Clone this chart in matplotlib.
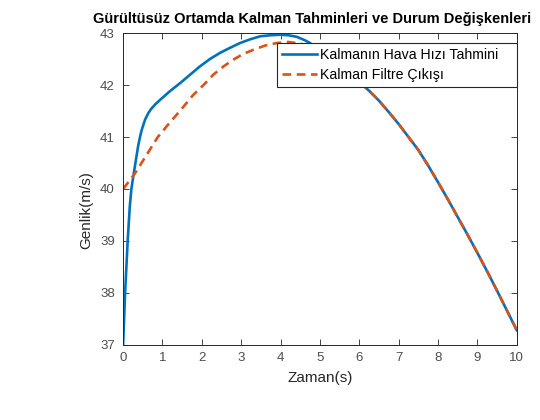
import matplotlib
matplotlib.use("Agg")
import matplotlib.pyplot as plt

plt.rcParams['font.family'] = ['Liberation Sans', 'DejaVu Sans']

t_blue = [0, 0.05, 0.116, 0.17, 0.21, 0.27, 0.34, 0.38, 0.42, 0.46, 0.49, 0.56, 0.64, 0.71,
          0.83, 0.96, 1.2, 1.45, 1.7, 1.95, 2.2, 2.46, 2.72, 2.97, 3.22, 3.48, 3.74, 4.0,
          4.2, 4.41, 4.6, 4.75, 5.0, 5.25, 5.5, 5.75, 6.0, 6.25, 6.5, 6.75, 7.0, 7.25,
          7.5, 7.75, 8.0, 8.25, 8.5, 8.75, 9.0, 9.25, 9.5, 9.75, 10.0]
kalman_speed = [37.0, 38.0, 39.0, 39.67, 40.0, 40.3, 40.63, 40.82, 40.97, 41.1, 41.18, 41.34,
                41.46, 41.54, 41.64, 41.73, 41.89, 42.04, 42.2, 42.36, 42.5, 42.62, 42.72,
                42.81, 42.88, 42.94, 42.96, 42.97, 42.96, 42.93, 42.87, 42.81, 42.67, 42.52,
                42.37, 42.22, 42.06, 41.89, 41.7, 41.48, 41.25, 41.0, 40.75, 40.45, 40.13,
                39.8, 39.46, 39.12, 38.77, 38.41, 38.04, 37.66, 37.28]

t_orange = [0, 0.3, 0.6, 0.88, 1.12, 1.45, 1.78, 2.04, 2.29, 2.55, 2.8, 3.05, 3.31, 3.6,
            3.9, 4.2, 4.5, 4.75, 5.0, 5.25, 5.5, 5.75, 6.0, 6.25, 6.5, 6.75, 7.0, 7.25,
            7.5, 7.75, 8.0, 8.25, 8.5, 8.75, 9.0, 9.25, 9.5, 9.75, 10.0]
filter_out = [40.0, 40.3, 40.66, 41.0, 41.22, 41.51, 41.81, 42.0, 42.2, 42.36, 42.49, 42.6,
              42.68, 42.76, 42.81, 42.83, 42.8, 42.74, 42.64, 42.51, 42.37, 42.22, 42.06,
              41.89, 41.7, 41.48, 41.25, 41.0, 40.75, 40.45, 40.13, 39.8, 39.46, 39.12,
              38.77, 38.41, 38.04, 37.66, 37.28]

x_ticks = list(range(0, 11))
y_ticks = [37, 38, 39, 40, 41, 42, 43]

fig = plt.figure(figsize=(5.4, 4.2), dpi=100)
ax = fig.add_axes([0.228, 0.179, 0.729, 0.742])

ax.plot(t_blue, kalman_speed, color='#0072BD', lw=1.9, solid_joinstyle='round',
        label='Kalmanın Hava Hızı Tahmini')
ax.plot(t_orange, filter_out, color='#D95319', lw=1.9, ls=(0, (3.3, 2.1)),
        label='Kalman Filtre Çıkışı')

ax.set_xlim(0, 10)
ax.set_ylim(37, 43)
ax.set_xticks(x_ticks)
ax.set_yticks(y_ticks)
ax.tick_params(direction='in', top=True, right=True, length=4, width=0.6,
               colors='#262626', labelcolor='#4d4d4d', labelsize=9.5)
ax.tick_params(axis='x', pad=5)
ax.tick_params(axis='y', pad=6)
for s in ax.spines.values():
    s.set_linewidth(0.7)
    s.set_color('#262626')

ax.set_xlabel('Zaman(s)', fontsize=11, color='#262626', labelpad=5)
ax.set_ylabel('Genlik(m/s)', fontsize=11, color='#262626')
ax.yaxis.set_label_coords(-0.076, 0.433)
ax.set_title('Gürültüsüz Ortamda Kalman Tahminleri ve Durum Değişkenleri',
             fontsize=10.5, fontweight='bold', pad=7, x=0.48)

leg = ax.legend(loc='upper left', bbox_to_anchor=(277/540, 1 - 42.7/420, 240/540, 0),
                bbox_transform=fig.transFigure, mode='expand', fontsize=10.2,
                handlelength=2.5, handletextpad=0.15, borderpad=0.35, labelspacing=0.45,
                fancybox=False, framealpha=1, borderaxespad=0)
leg.get_frame().set_edgecolor('#262626')
leg.get_frame().set_linewidth(0.8)

fig.savefig('out.png', dpi=100)
